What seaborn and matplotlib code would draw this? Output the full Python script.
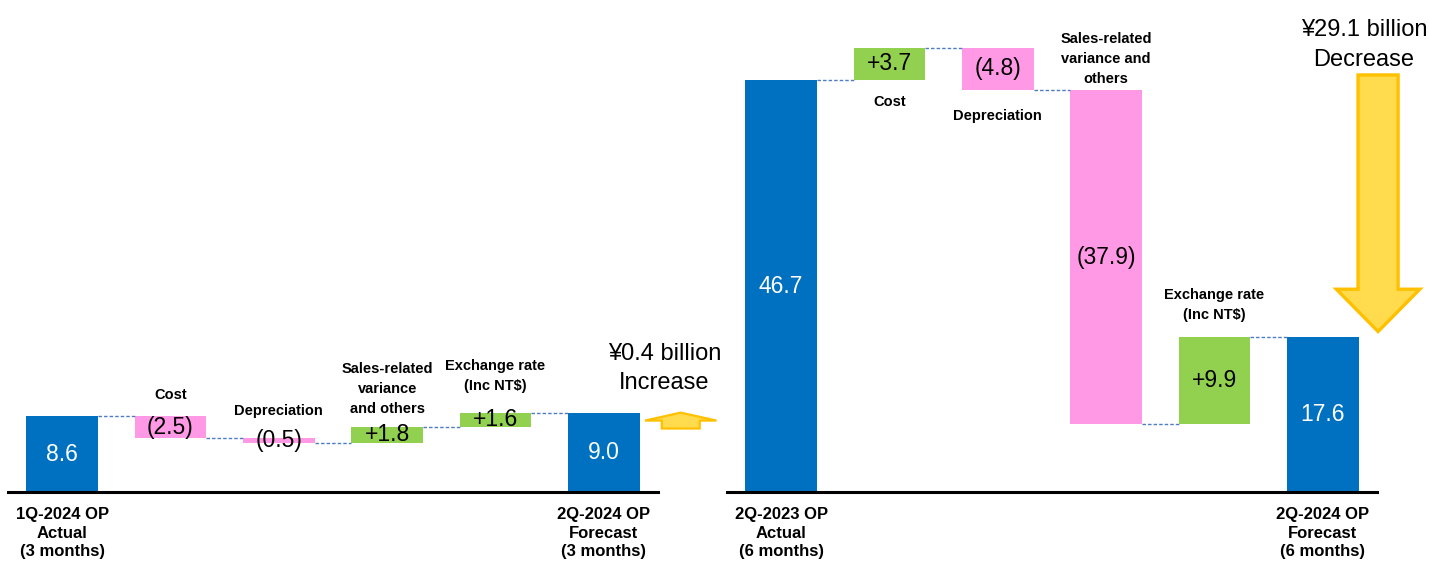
import matplotlib
matplotlib.use("Agg")
import matplotlib.pyplot as plt
from matplotlib.patches import FancyArrow
import pandas as pd
import seaborn as sns

# ---------------------------------------------------------------- data
q_steps = ["1Q-2024 OP", "Cost", "Depreciation",
           "Sales-related variance and others", "Exchange rate (Inc NT$)",
           "2Q-2024 OP"]
q_values = [8.6, -2.5, -0.5, 1.8, 1.6, 9.0]
q_names = ["", "Cost", "Depreciation", "Sales-related\nvariance\nand others",
           "Exchange rate\n(Inc NT$)", ""]
q_ticks = ["1Q-2024 OP\nActual\n(3 months)", "2Q-2024 OP\nForecast\n(3 months)"]
q_change = "¥0.4 billion\nIncrease"

h_steps = ["2Q-2023 OP", "Cost", "Depreciation",
           "Sales-related variance and others", "Exchange rate (Inc NT$)",
           "2Q-2024 OP"]
h_values = [46.7, 3.7, -4.8, -37.9, 9.9, 17.6]
h_names = ["", "Cost", "Depreciation", "Sales-related\nvariance and\nothers",
           "Exchange rate\n(Inc NT$)", ""]
h_ticks = ["2Q-2023 OP\nActual\n(6 months)", "2Q-2024 OP\nForecast\n(6 months)"]
h_change = "¥29.1 billion\nDecrease"

# ------------------------------------------------------------- styling
COLORS = {"total": "#0070C0", "up": "#92D050", "down": "#FF99E6"}
LINK = "#4F7BC4"
ARROW_FILL = "#FFDB4D"
ARROW_EDGE = "#FFC000"
BAR_W = 0.66
Y_TOP = 55.8

# name placement: (side, gap in pixels)
q_place = [None, ("above", 14), ("above", 20), ("above", 11), ("above", 20), None]
h_place = [None, ("below", 15), ("below", 19), ("above", 4), ("above", 15), None]

sns.set_theme(style="white")
plt.rcParams["font.family"] = ["Liberation Sans", "DejaVu Sans"]
plt.rcParams["text.color"] = "black"
plt.rcParams["xtick.color"] = "black"


def waterfall_frame(steps, values):
    n = len(values)
    rows = []
    running = 0.0
    for i, v in enumerate(values):
        if i in (0, n - 1):
            kind = "total"
            bottom, height = 0.0, v
            running = v
            text = f"{v:.1f}"
        else:
            start = running
            running = start + v
            bottom, height = min(start, running), abs(v)
            kind = "up" if v > 0 else "down"
            text = f"+{v:.1f}" if v > 0 else f"({abs(v):.1f})"
        rows.append(dict(step=steps[i], value=v, bottom=bottom, height=height,
                         kind=kind, level=running, text=text))
    return pd.DataFrame(rows)


def draw_panel(ax, steps, values, names, place, ticks):
    df = waterfall_frame(steps, values)
    n = len(df)
    sns.barplot(data=df, x="step", y="height", order=list(df["step"]),
                color=COLORS["total"], saturation=1,
                bottom=df["bottom"].to_numpy(),
                facecolor=[COLORS[k] for k in df["kind"]],
                width=BAR_W, linewidth=0, errorbar=None, ax=ax)

    # dashed connectors between consecutive bars
    for i in range(n - 1):
        ax.hlines(df["level"][i], i + BAR_W / 2, i + 1 - BAR_W / 2,
                  colors=LINK, linestyles=(0, (2.5, 1.5)), linewidth=1.0,
                  zorder=1)

    # value labels inside the bars
    for i, r in df.iterrows():
        ax.text(i, r["bottom"] + r["height"] / 2, r["text"],
                ha="center", va="center", fontsize=16.5,
                color="white" if r["kind"] == "total" else "black", zorder=5)

    # step names above / below the floating bars
    for i, r in df.iterrows():
        if place[i] is None:
            continue
        side, gap = place[i]
        if side == "above":
            y, dy, va = r["bottom"] + r["height"], gap, "bottom"
        else:
            y, dy, va = r["bottom"], -gap, "top"
        ax.annotate(names[i], (i, y), xytext=(0, dy),
                    textcoords="offset pixels", ha="center", va=va,
                    fontsize=10.5, fontweight="bold", color="black",
                    linespacing=1.55, annotation_clip=False)

    ax.set_xlim(-0.5, n - 0.5)
    ax.set_ylim(0, Y_TOP)
    ax.set_xticks([0, n - 1], labels=ticks)
    for lab in ax.get_xticklabels():
        lab.set_fontweight("bold")
        lab.set_fontsize(12)
        lab.set_linespacing(1.3)
        lab.set_color("black")
    ax.tick_params(axis="x", length=0, pad=11)
    ax.set_yticks([])
    ax.set_xlabel("")
    ax.set_ylabel("")
    for s in ("left", "right", "top"):
        ax.spines[s].set_visible(False)
    ax.spines["bottom"].set_color("black")
    ax.spines["bottom"].set_linewidth(2.2)
    return df


fig = plt.figure(figsize=(14.29, 5.62), dpi=100)
W, H = 1429, 562
ax_q = fig.add_axes([8 / W, 70 / H, 650 / W, 492 / H])
ax_h = fig.add_axes([727 / W, 70 / H, 650 / W, 492 / H])

dq = draw_panel(ax_q, q_steps, q_values, q_names, q_place, q_ticks)
dh = draw_panel(ax_h, h_steps, h_values, h_names, h_place, h_ticks)

# change arrows beside the closing bar
q_end = dq["value"].iloc[-1]
ax_q.add_patch(FancyArrow(5.71, q_end - 1.8, 0, 1.8, width=0.35,
                          head_width=0.66, head_length=0.9,
                          length_includes_head=True, facecolor=ARROW_FILL,
                          edgecolor=ARROW_EDGE, linewidth=1.6, clip_on=False,
                          zorder=6))
ax_q.text(5.56, 16.9, q_change, ha="center", va="top", fontsize=17,
          linespacing=1.42, color="black")

h_start, h_end = dh["value"].iloc[0], dh["value"].iloc[-1]
ax_h.add_patch(FancyArrow(5.51, h_start + 0.6, 0, (h_end + 0.6) - (h_start + 0.6),
                          width=0.37, head_width=0.77, head_length=4.8,
                          length_includes_head=True, facecolor=ARROW_FILL,
                          edgecolor=ARROW_EDGE, linewidth=2.4, clip_on=False,
                          zorder=6))
ax_h.text(5.38, 53.6, h_change, ha="center", va="top", fontsize=17,
          linespacing=1.42, color="black")

fig.savefig("out.png", dpi=100)
